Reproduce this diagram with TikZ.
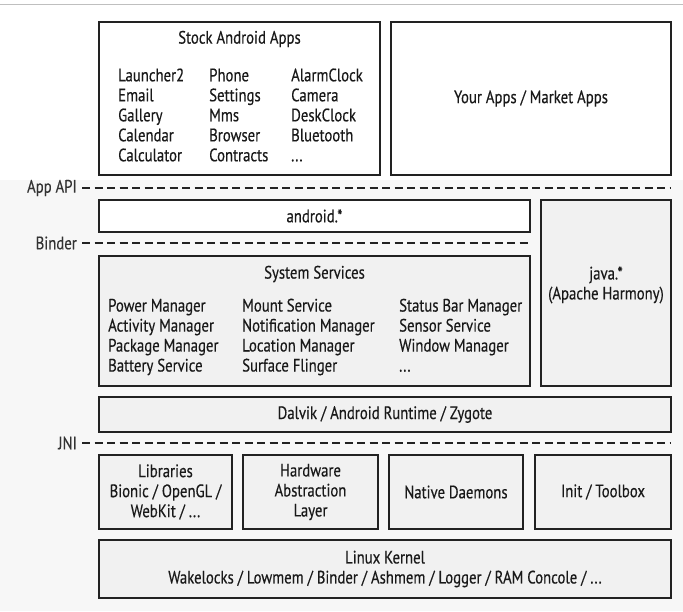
\documentclass[tikz,border=0pt]{standalone}
\usepackage{fontspec}
\setmainfont{PT Sans}[FakeStretch=0.82,FakeBold=0.35]
\definecolor{edge}{HTML}{222222}
\definecolor{shade}{HTML}{F1F1F1}
\begin{document}
\begin{tikzpicture}[x=1pt,y=-1pt,
  box/.style={draw=edge,line width=1.8pt,fill=white,inner sep=0pt,minimum width=#1},
  lbl/.style={inner sep=0pt,font=\fontsize{18}{20}\selectfont,text=black!90,align=center},
  col/.style={inner sep=0pt,font=\fontsize{18}{20}\selectfont,text=black!90,align=left,anchor=west},
  sep/.style={draw=edge,line width=1.4pt,dash pattern=on 8pt off 4.5pt},
  side/.style={inner sep=0pt,font=\fontsize{18}{20}\selectfont,text=black!80,anchor=east}]
\useasboundingbox (0,0) rectangle (683,611);
\fill[shade!60] (0,180) rectangle (683,611);
\draw[black!25,line width=1pt] (0,4) -- (683,4);
% boxes
\node[box=281pt,minimum height=153pt] (stock) at (239.5,98.5) {};
\node[box=280pt,minimum height=153pt] (your) at (531,98.5) {};
\node[box=431pt,minimum height=32pt] (android) at (314.5,216) {};
\node[box=130pt,minimum height=186pt,fill=shade] (java) at (606,293) {};
\node[box=431pt,minimum height=130pt,fill=shade] (sys) at (314.5,321) {};
\node[box=572pt,minimum height=35pt,fill=shade] (dalvik) at (385,414.5) {};
\node[box=133pt,minimum height=74pt,fill=shade] (libs) at (165.5,492) {};
\node[box=135pt,minimum height=74pt,fill=shade] (hal) at (310.5,492) {};
\node[box=134pt,minimum height=74pt,fill=shade] (native) at (456,492) {};
\node[box=136pt,minimum height=74pt,fill=shade] (init) at (603,492) {};
\node[box=572pt,minimum height=58pt,fill=shade] (kernel) at (385,569) {};
% texts
\node[lbl] (stocktitle) at (239.5,39) {Stock Android Apps};
\node[col] (c1) at (118,115) {Launcher2\\Email\\Gallery\\Calendar\\Calculator};
\node[col] (c2) at (209,115) {Phone\\Settings\\Mms\\Browser\\Contracts};
\node[col] (c3) at (291,115) {AlarmClock\\Camera\\DeskClock\\Bluetooth\\...};
\node[lbl] (yourtxt) at (your) {Your Apps / Market Apps};
\node[lbl] (androidtxt) at (android) {android.*};
\node[lbl] (javatxt) at (606,285) {java.*\\(Apache Harmony)};
\node[lbl] (systitle) at (314.5,274) {System Services};
\node[col] (s1) at (108,337) {Power Manager\\Activity Manager\\Package Manager\\Battery Service};
\node[col] (s2) at (242,337) {Mount Service\\Notification Manager\\Location Manager\\Surface Flinger};
\node[col] (s3) at (399,337) {Status Bar Manager\\Sensor Service\\Window Manager\\...\vphantom{y}};
\node[lbl] (dalviktxt) at (dalvik) {Dalvik / Android Runtime / Zygote};
\node[lbl] (libstxt) at (libs) {Libraries\\Bionic / OpenGL /\\WebKit / ...};
\node[lbl] (haltxt) at (hal) {Hardware\\Abstraction\\Layer};
\node[lbl] (nativetxt) at (native) {Native Daemons};
\node[lbl] (inittxt) at (init) {Init / Toolbox};
\node[lbl] (kerneltxt) at (kernel) {Linux Kernel\\Wakelocks / Lowmem / Binder / Ashmem / Logger / RAM Concole / ...};
% separators
\node[side] (api) at (77,188) {App API};
\node[side] (binder) at (77,243) {Binder};
\node[side] (jni) at (77,443) {JNI};
\coordinate (apiend) at (671,188);
\coordinate (binderend) at (530,243);
\coordinate (jniend) at (671,443);
\draw[sep] ([xshift=5pt]api.east) -- (apiend);
\draw[sep] ([xshift=5pt]binder.east) -- (binderend);
\draw[sep] ([xshift=5pt]jni.east) -- (jniend);
\end{tikzpicture}
\end{document}
